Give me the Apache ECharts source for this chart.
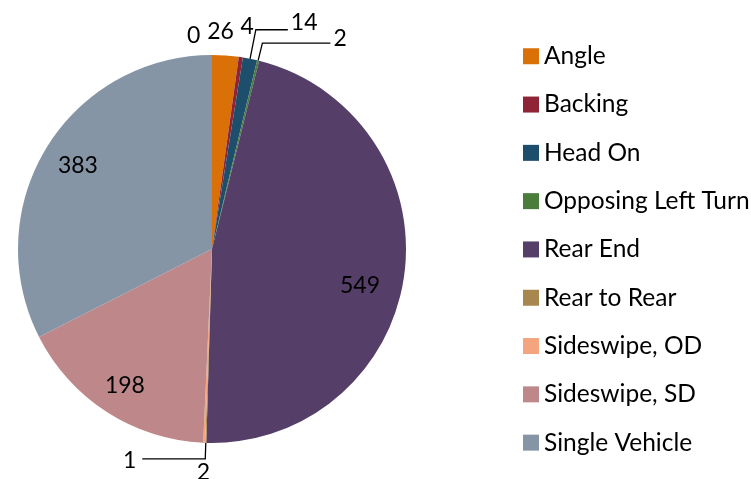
<!DOCTYPE html>
<html>
<head>
<meta charset="utf-8">
<script src="https://cdn.jsdelivr.net/npm/echarts@6/dist/echarts.min.js"></script>
<style>
  html, body { margin: 0; padding: 0; background: #fff; }
  #chart { width: 751px; height: 479px; }
</style>
</head>
<body>
<div id="chart"></div>
<script>
// crash type counts, clockwise from 12 o'clock
const categories = ["Other", "Angle", "Backing", "Head On", "Opposing Left Turn", "Rear End",
  "Rear to Rear", "Sideswipe, OD", "Sideswipe, SD", "Single Vehicle"];
const counts = [0, 26, 4, 14, 2, 549, 1, 2, 198, 383];
const legendNames = categories.slice(1);

const colors = ["#8595a6", "#d97008", "#8e2435", "#1d4f6d", "#4a7c3c", "#553f69",
  "#a8874f", "#f4a57e", "#be888a", "#8595a6"];

// label placement (leader lengths, text shift), tuned to the reference
const labelTweaks = [
  { line: false, len: 19.5, len2: -25, dist: 0, shift: 0 },
  { line: false, len: 24, len2: -20, dist: 0, shift: 0 },
  { line: false, len: 30.5, len2: -5, dist: 0, shift: 0 },
  { line: true, len: 29.6, len2: 32, dist: 3, shift: -7.5 },
  { line: true, len: 18, len2: 68, dist: 3, shift: -4.5 },
  { line: false, len: -64.8, len2: 0, dist: 0, shift: 18.5 },
  { line: true, len: 16, len2: 63, dist: 6, shift: 1.5 },
  { line: false, len: 29.3, len2: -7, dist: 0, shift: 0 },
  { line: false, len: -31.6, len2: -21, dist: 0, shift: 0 },
  { line: false, len: -34.6, len2: -21.8, dist: 0, shift: 0 }
];

const font = "Lato, 'Open Sans', sans-serif";

const chart = echarts.init(document.getElementById("chart"), null, { renderer: "canvas" });

const pieData = categories.map((name, i) => {
  const t = labelTweaks[i];
  const label = { distanceToLabelLine: t.dist };
  if (t.shift > 0) {
    label.formatter = "{s|{c}}";
    label.rich = { s: { verticalAlign: "top", padding: [2 * t.shift, 0, 0, 0] } };
  } else if (t.shift < 0) {
    label.formatter = "{s|{c}}";
    label.rich = { s: { verticalAlign: "bottom", padding: [0, 0, -2 * t.shift, 0] } };
  }
  return {
    name: name,
    value: counts[i],
    itemStyle: { color: colors[i] },
    label: label,
    labelLine: { show: t.line, length: t.len, length2: t.len2 }
  };
});

chart.setOption({
  animation: false,
  legend: {
    data: legendNames,
    orient: "vertical",
    left: 523,
    top: 43.75,
    padding: 0,
    icon: "rect",
    itemWidth: 16,
    itemHeight: 16,
    itemGap: 23.3,
    selectedMode: false,
    textStyle: { fontFamily: font, fontSize: 24.5, color: "#000" }
  },
  series: [{
    type: "pie",
    center: [212, 249],
    radius: 194,
    startAngle: 90,
    clockwise: true,
    minAngle: 0.01,
    avoidLabelOverlap: false,
    silent: true,
    emphasis: { disabled: true },
    itemStyle: { borderWidth: 0 },
    label: {
      show: true,
      position: "outside",
      formatter: "{c}",
      fontFamily: font,
      fontSize: 23,
      color: "#000"
    },
    labelLine: {
      smooth: false,
      lineStyle: { color: "#000", width: 1.3 }
    },
    data: pieData
  }]
});
</script>
</body>
</html>
